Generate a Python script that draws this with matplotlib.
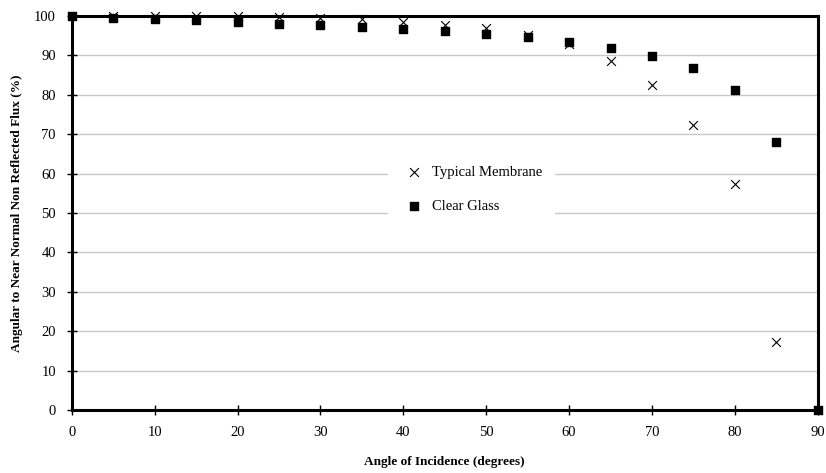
import matplotlib.pyplot as plt
import numpy as np

plt.rcParams['font.family'] = ['Liberation Serif', 'DejaVu Serif']

angle = [0, 5, 10, 15, 20, 25, 30, 35, 40, 45, 50, 55, 60, 65, 70, 75, 80, 85, 90]
membrane = [100, 100, 100, 100, 99.9, 99.8, 99.6, 99.3, 98.6, 97.8, 96.9, 95.3,
            93.0, 88.6, 82.6, 72.4, 57.3, 17.3, 0]
glass = [100, 99.6, 99.3, 98.9, 98.5, 98.1, 97.7, 97.2, 96.7, 96.1, 95.4, 94.6,
         93.4, 92.0, 89.9, 86.8, 81.2, 68.1, 0]

fig = plt.figure(figsize=(8.26, 4.73), dpi=100)
ax = fig.add_axes([0.087, 0.133, 0.903, 0.833])

ax.scatter(angle, membrane, marker='x', s=40, c='black', linewidths=0.8,
           label='Typical Membrane', clip_on=False, zorder=3)
ax.scatter(angle, glass, marker='s', s=38, c='black',
           label='Clear Glass', clip_on=False, zorder=4)

ax.set_xlim(0, 90)
ax.set_ylim(0, 100)
ax.set_xticks(np.arange(0, 91, 10))
ax.set_yticks(np.arange(0, 101, 10))
ax.yaxis.grid(True, color='#c8c8c8', linewidth=1)
ax.set_axisbelow(True)
ax.tick_params(direction='inout', length=7, width=1, labelsize=10.5, pad=8)
for s in ax.spines.values():
    s.set_linewidth(2.2)

ax.set_xlabel('Angle of Incidence (degrees)', fontsize=9.5, fontweight='bold', labelpad=12)
ax.set_ylabel('Angular to Near Normal Non Reflected Flux (%)', fontsize=9.5,
              fontweight='bold', labelpad=8)

leg = ax.legend(loc='center', bbox_to_anchor=(0.535, 0.56), frameon=True,
                fontsize=10.5, handletextpad=0.2, labelspacing=1.45,
                borderpad=0.8, borderaxespad=0)
leg.get_frame().set_edgecolor('white')
leg.get_frame().set_alpha(1)
leg.get_frame().set_boxstyle('square', pad=0)

fig.savefig('out.png', dpi=100)
